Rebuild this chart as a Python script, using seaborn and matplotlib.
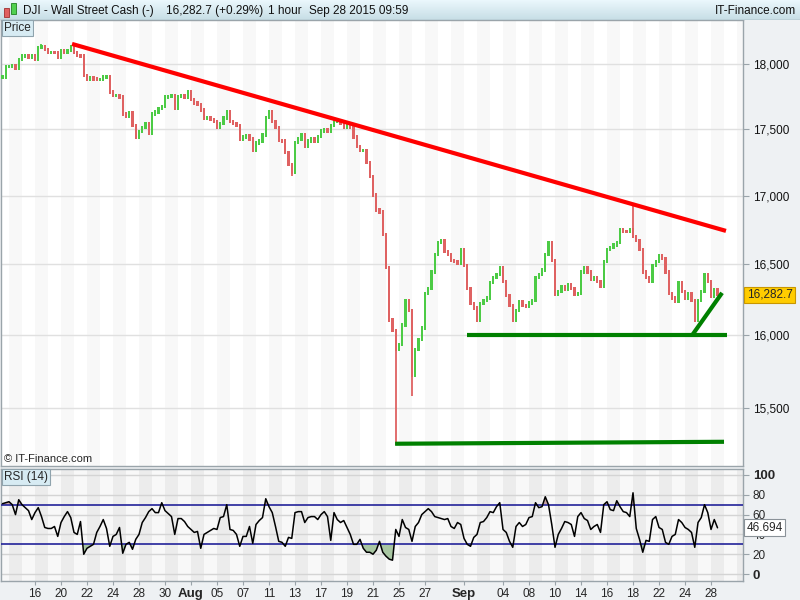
import numpy as np
import pandas as pd
import matplotlib
matplotlib.use("Agg")
import matplotlib.pyplot as plt
import matplotlib.ticker as mticker
from matplotlib.patches import Rectangle
import seaborn as sns

# bars: 4 per trading day, day 0 = Jul 16 2015
bars_per_day = 4
first_day = -2.5

close = [17900, 17980, 17980, 17990, 17970, 18035, 18065, 18070, 18055, 18065,
         18035, 18130, 18140, 18115, 18095, 18095, 18090, 18055, 18105, 18095,
         18110, 18140, 18095, 18070, 18065, 17910, 17885, 17895, 17885, 17880,
         17880, 17900, 17900, 17785, 17755, 17760, 17745, 17615, 17600, 17625,
         17530, 17435, 17480, 17510, 17545, 17470, 17615, 17630, 17660, 17675,
         17745, 17750, 17760, 17660, 17750, 17760, 17745, 17785, 17725, 17700,
         17690, 17645, 17585, 17590, 17575, 17560, 17515, 17545, 17585, 17630,
         17560, 17545, 17530, 17425, 17440, 17450, 17425, 17340, 17395, 17410,
         17455, 17590, 17630, 17555, 17510, 17415, 17410, 17325, 17230, 17175,
         17400, 17425, 17455, 17370, 17410, 17425, 17410, 17445, 17485, 17495,
         17485, 17525, 17555, 17560, 17545, 17515, 17530, 17515, 17440, 17365,
         17335, 17340, 17250, 17140, 17005, 16895, 16880, 16715, 16475, 16105,
         16035, 15900, 15935, 16070, 16245, 16175, 15725, 15900, 15970, 16050,
         16295, 16330, 16445, 16570, 16660, 16675, 16590, 16570, 16530, 16520,
         16510, 16605, 16490, 16330, 16220, 16190, 16100, 16220, 16245, 16260,
         16370, 16405, 16425, 16480, 16375, 16280, 16210, 16105, 16175, 16235,
         16205, 16200, 16225, 16245, 16405, 16430, 16460, 16570, 16655, 16530,
         16285, 16305, 16340, 16320, 16355, 16330, 16285, 16295, 16445, 16475,
         16445, 16390, 16405, 16380, 16340, 16520, 16605, 16620, 16640, 16655,
         16750, 16740, 16735, 16750, 16700, 16675, 16605, 16445, 16405, 16375,
         16490, 16520, 16560, 16545, 16445, 16295, 16260, 16235, 16370, 16305,
         16260, 16290, 16245, 16105, 16245, 16305, 16425, 16375, 16270, 16320,
         16282.7]

rsi = [71, 72, 73, 70, 60, 75, 70, 67, 64, 55,
       62, 67, 58, 47, 46, 46, 48, 38, 52, 58,
       63, 57, 42, 40, 53, 20, 26, 28, 30, 42,
       48, 55, 46, 28, 38, 40, 47, 21, 30, 32,
       25, 35, 40, 52, 57, 63, 66, 62, 62, 72,
       64, 61, 58, 40, 56, 56, 53, 48, 45, 42,
       43, 26, 40, 42, 44, 46, 45, 57, 58, 70,
       45, 44, 40, 28, 38, 38, 48, 31, 50, 54,
       57, 76, 68, 62, 48, 33, 32, 28, 37, 36,
       62, 63, 63, 52, 57, 58, 58, 55, 60, 63,
       58, 34, 62, 55, 52, 54, 47, 40, 30, 30,
       35, 26, 22, 22, 20, 24, 33, 22, 18, 15,
       14, 45, 38, 55, 47, 45, 33, 48, 52, 60,
       63, 66, 63, 58, 57, 56, 55, 56, 48, 46,
       52, 50, 36, 30, 28, 37, 40, 52, 53, 57,
       63, 62, 68, 72, 45, 42, 33, 27, 48, 52,
       48, 50, 57, 58, 72, 67, 68, 78, 70, 50,
       27, 40, 46, 53, 52, 50, 38, 58, 62, 56,
       54, 45, 48, 50, 42, 70, 73, 65, 64, 74,
       68, 63, 62, 58, 82, 46, 35, 22, 34, 33,
       55, 58, 47, 45, 32, 30, 38, 40, 55, 52,
       47, 45, 42, 27, 52, 57, 70, 62, 45, 55,
       46.694]

# long wicks that stick out of the close-to-close bars
wick_idx = [12, 89, 121, 126, 194]
wick_val = [18160, 17150, 15255, 15580, 16930]

# trend lines (trading day, price)
red_days, red_prices = [2.85, 53.15], [18160, 16742]
green_low_days, green_low_prices = [27.7, 53.0], [15262, 15275]
support_days, support_prices = [33.2, 53.2], [16000, 16000]
rising_days, rising_prices = [50.55, 52.85], [16000, 16297]

price_ticks = [15500, 16000, 16500, 17000, 17500, 18000]
rsi_ticks = [0, 20, 40, 60, 80, 100]
day_pos = [0, 2, 4, 6, 8, 10, 12, 14, 16, 18, 20, 22, 24, 26, 28, 30,
           33, 36, 38, 40, 42, 44, 46, 48, 50, 52]
day_labels = ["16", "20", "22", "24", "28", "30", "Aug", "05", "07", "11", "13",
              "17", "19", "21", "25", "27", "Sep", "04", "08", "10", "14", "16",
              "18", "22", "24", "28"]

sns.set_style("white")
plt.rcParams['font.family'] = ['Liberation Sans', 'DejaVu Sans']

W, H = 800, 600
fig = plt.figure(figsize=(8, 6), dpi=100, facecolor='#eef1f3')

def fx(px):
    return px / W

def fy(py):
    return 1 - py / H

x = first_day + np.arange(len(close)) / bars_per_day
xlim = (-2.615, 54.46)
edge = '#9aa4aa'

# ---------- price panel ----------
ax = fig.add_axes([fx(1), fy(466), fx(742), 446 / H])
ax.set_facecolor('white')
for d in range(-2, 56, 2):
    ax.axvspan(d, d + 1, color='#f8f8f8', lw=0, zorder=0)
ax.set_yscale('log')
ax.set_ylim(15115, 18350)
ax.set_xlim(*xlim)
for t in price_ticks:
    ax.axhline(t, color='#e0e0e0', lw=1, zorder=1)

c = np.array(close)
prev = np.r_[c[0], c[:-1]]
# bar body spans previous close -> close, padded a little like an hourly high/low range
lo = np.minimum(prev, c) * 0.9993
hi = np.maximum(prev, c) * 1.0007
cols = np.where(c >= prev, '#4ccb45', '#df6262')
for i, v in zip(wick_idx, wick_val):
    ax.vlines(x[i], min(lo[i], v), max(hi[i], v), color=cols[i], lw=1.3, zorder=2)
ax.bar(x, hi - lo, bottom=lo, width=0.17, color=cols, lw=0, zorder=3)

ax.plot(red_days, red_prices, color='#ff0000', lw=3, solid_capstyle='butt', zorder=4)
for dd, pp in [(green_low_days, green_low_prices), (support_days, support_prices),
               (rising_days, rising_prices)]:
    ax.plot(dd, pp, color='#008000', lw=3, solid_capstyle='butt', zorder=4)

ax.yaxis.set_major_locator(mticker.FixedLocator(price_ticks))
ax.yaxis.set_minor_locator(mticker.NullLocator())
ax.yaxis.set_major_formatter(mticker.FuncFormatter(lambda v, p: f"{v:,.0f}"))
ax.yaxis.tick_right()
ax.tick_params(axis='y', which='major', right=True, length=4, width=0.8, color=edge,
               labelsize=8.5, pad=3, labelcolor='#111111')
ax.set_xticks([])
for s in ax.spines.values():
    s.set_color(edge)
    s.set_linewidth(1)
ax.text(1.005, 16282.7, "16,282.7", transform=ax.get_yaxis_transform(), va='center',
        ha='left', fontsize=8.5,
        bbox=dict(boxstyle='square,pad=0.2', fc='#ffcc00', ec='#c89600', lw=0.8))
ax.text(3 / 742, 7 / 446, "\u00a9 IT-Finance.com", transform=ax.transAxes, fontsize=8,
        ha='left', va='center')

# ---------- RSI panel ----------
ax2 = fig.add_axes([fx(1), fy(581), fx(742), 112 / H])
ax2.set_facecolor('#f8f8f8')
for d in range(-2, 56, 2):
    ax2.axvspan(d, d + 1, color='#ececec', lw=0, zorder=0)
ax2.set_xlim(*xlim)
ax2.set_ylim(-7, 106)
for t in rsi_ticks:
    ax2.axhline(t, color='#d4d4d4', lw=1, zorder=1)
r = np.array(rsi, dtype=float)
ax2.fill_between(x, r, 70, where=r > 70, interpolate=True, color='#caa3a3', lw=0, zorder=2)
ax2.fill_between(x, r, 30, where=r < 30, interpolate=True, color='#a8c6a2', lw=0, zorder=2)
ax2.axhline(70, color='#23239a', lw=1.2, zorder=3)
ax2.axhline(30, color='#23239a', lw=1.2, zorder=3)
df = pd.DataFrame({"day": x, "rsi": r})
sns.lineplot(data=df, x="day", y="rsi", ax=ax2, color='black', lw=1.1, zorder=4)
ax2.set_xlabel("")
ax2.set_ylabel("")
ax2.yaxis.tick_right()
ax2.set_yticks(rsi_ticks)
ax2.set_yticklabels([str(t) for t in rsi_ticks])
ax2.tick_params(axis='y', right=True, length=4, width=0.8, color=edge, labelsize=8.5, pad=3)
for lab in ax2.get_yticklabels():
    if lab.get_text() in ("0", "100"):
        lab.set_fontweight('bold')
        lab.set_fontsize(9.5)
ax2.set_xticks(day_pos)
ax2.set_xticklabels(day_labels)
ax2.tick_params(axis='x', bottom=True, length=3, width=0.8, color=edge, labelsize=8.5, pad=2)
for lab in ax2.get_xticklabels():
    if lab.get_text() in ("Aug", "Sep"):
        lab.set_fontweight('bold')
        lab.set_fontsize(9.5)
for s in ax2.spines.values():
    s.set_color(edge)
    s.set_linewidth(1)
# last value box sits on top of the "40" label, as in the reference
ax2.text(1.005, r[-1], "46.694", transform=ax2.get_yaxis_transform(), va='center',
         ha='left', fontsize=8.5, zorder=10,
         bbox=dict(boxstyle='square,pad=0.2', fc='white', ec='#8a9298', lw=0.8))

# ---------- header ----------
hax = fig.add_axes([0, fy(20), 1, 20 / H])
grad = np.linspace(0, 1, 32).reshape(-1, 1)
top = np.array([0.92, 0.97, 0.99])
bot = np.array([0.78, 0.87, 0.90])
img = top + (bot - top) * grad[:, :, None]
hax.imshow(np.repeat(img, 2, axis=1), aspect='auto', extent=(0, W, 20, 0))
hax.set_xlim(0, W)
hax.set_ylim(20, 0)
hax.axis('off')
hax.add_patch(Rectangle((4, 8), 5, 9, fc='#e06060', ec='#a03030', lw=0.6))
hax.add_patch(Rectangle((11, 3), 5, 11, fc='#50d050', ec='#208020', lw=0.6))
hax.plot([0, W], [19.5, 19.5], color='#8e9ba3', lw=1)
hdr = dict(fontsize=8.5, va='center', ha='left', color='#111111')
hax.text(23, 11, "DJI - Wall Street Cash (-)", **hdr)
hax.text(166, 11, "16,282.7 (+0.29%)", **hdr)
hax.text(268, 11, "1 hour", **hdr)
hax.text(309, 11, "Sep 28 2015 09:59", **hdr)
hax.text(796, 11, "IT-Finance.com", fontsize=8.5, va='center', ha='right', color='#111111')

box = dict(boxstyle='square,pad=0.2', fc='#d7ebf3', ec='#8fa3ad', lw=0.8)
fig.text(fx(4), fy(28), "Price", fontsize=8.5, va='center', ha='left', bbox=box)
fig.text(fx(4), fy(477), "RSI (14)", fontsize=8.5, va='center', ha='left', bbox=box)

fig.savefig("out.png", dpi=100, facecolor=fig.get_facecolor())
